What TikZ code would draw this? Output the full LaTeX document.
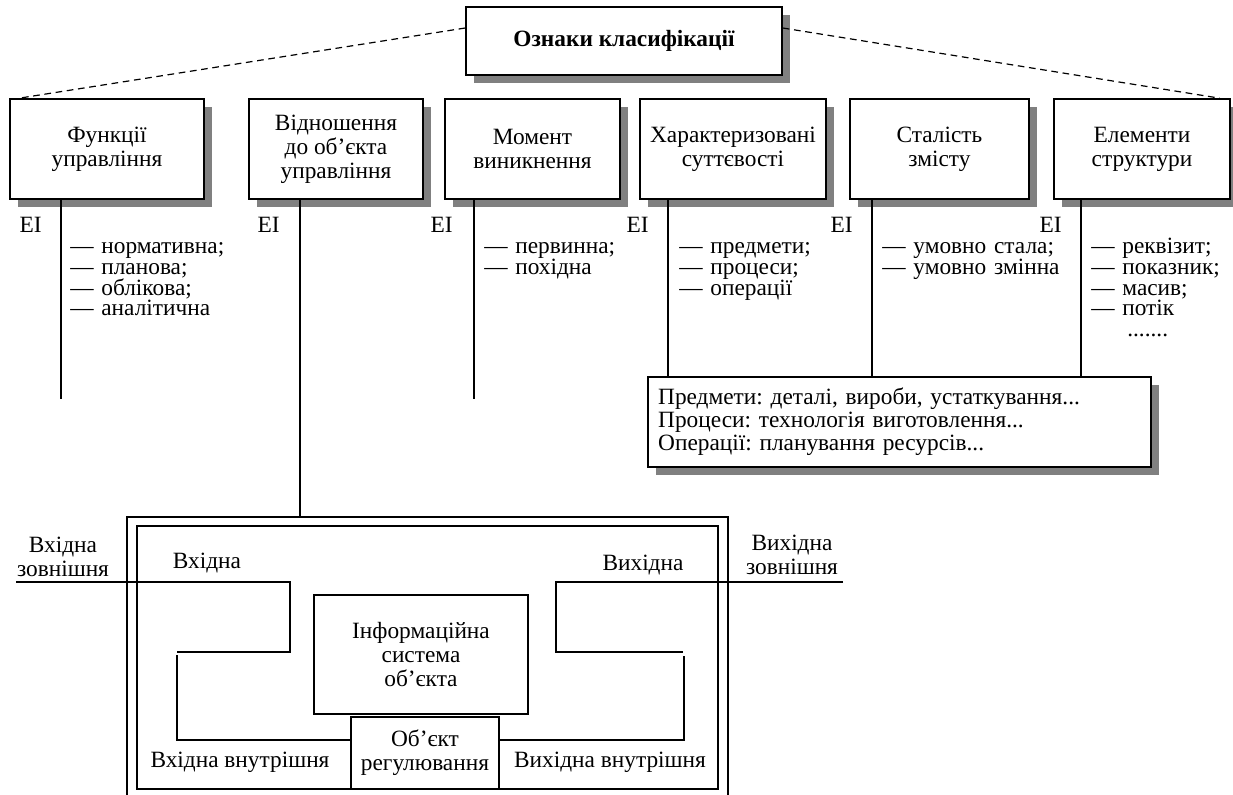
\documentclass[tikz,border=0pt]{standalone}
\usepackage{fontspec}
\setmainfont{Liberation Serif}
\usetikzlibrary{shadows}
\newcommand\listfont{\fontsize{17.5}{15.5}\selectfont\lineskiplimit=-20pt\relax}

\begin{document}
\begin{tikzpicture}[x=0.75pt,y=-0.75pt,
		font=\fontsize{17.5}{18}\selectfont\frenchspacing,
		box/.style={draw,line width=1.2pt,fill=white,align=center,minimum height=75pt,
			drop shadow={shadow xshift=6pt,shadow yshift=-6pt,fill=gray,opacity=1}},
		plain/.style={draw,line width=0.9pt,fill=white,align=center},
		list/.style={anchor=base west,inner sep=0pt,align=left,text width=150pt,font=\listfont},
		ei/.style={anchor=base east,inner sep=0pt},
		lbl/.style={align=center,inner sep=0pt},
		link/.style={line width=1.2pt},
		wire/.style={line width=0.9pt},
		dashlink/.style={line width=0.9pt,dash pattern=on 5pt off 3.5pt}]
		\useasboundingbox (0,0) rectangle (1233,795);
		% header and the six signs
		\node[box,minimum width=237pt,minimum height=51pt,font=\fontsize{17.5}{18}\selectfont\bfseries] (top) at (624,41) {Ознаки класифікації};
		\node[box,minimum width=145.5pt] (fun) at (107,149) {Функції\\управління};
		\node[box,minimum width=130.5pt] (vid) at (336,149) {Відношення\\до об’єкта\\управління};
		\node[box,minimum width=131.25pt] (mom) at (532.5,149) {Момент\\виникнення};
		\node[box,minimum width=139.5pt] (xar) at (733,149) {Характеризовані\\суттєвості};
		\node[box,minimum width=134.25pt] (sta) at (939.5,149) {Сталість\\змісту};
		\node[box,minimum width=132pt] (ele) at (1142,149) {Елементи\\структури};
		\draw[dashlink]([yshift=9.75pt]top.west)--([xshift=7.5pt]fun.north west);
		\draw[dashlink]([yshift=9.75pt]top.east)--([xshift=-8.25pt]ele.north east);
		% note box
		\node[box,minimum width=377.25pt,minimum height=67.5pt,text width=362pt,align=left,
			font=\fontsize{17.5}{17.25}\selectfont\frenchspacing] (note) at (899.5,422)
			{Предмети: деталі, вироби, устаткування...\\Процеси: технологія виготовлення...\\Операції: планування ресурсів...};
		% stems
		\coordinate (fx) at (61,399);
		\coordinate (vx) at (300,517);
		\coordinate (mx) at (474,399);
		\coordinate (xx) at (668,377);
		\coordinate (sx) at (872,377);
		\coordinate (ex) at (1081,377);
		\draw[link](fun.south -| fx)--(fx);
		\draw[link](vid.south -| vx)--(vx);
		\draw[link](mom.south -| mx)--(mx);
		\draw[link](xar.south -| xx)--(note.north -| xx);
		\draw[link](sta.south -| sx)--(note.north -| sx);
		\draw[link](ele.south -| ex)--(note.north -| ex);
		% EI marks
		\node[ei] (ei1) at (42,233) {EI};
		\node[ei] (ei2) at (280,233) {EI};
		\node[ei] (ei3) at (453,233) {EI};
		\node[ei] (ei4) at (649,233) {EI};
		\node[ei] (ei5) at (853,233) {EI};
		\node[ei] (ei6) at (1062,233) {EI};
		% lists
		\node[list] (funl) at (70,254) {— нормативна;\\— планова;\\— облікова;\\— аналітична};
		\node[list] (moml) at (484,254) {— первинна;\\— похідна};
		\node[list] (xarl) at (679,254) {— предмети;\\— процеси;\\— операції};
		\node[list] (stal) at (882,254) {— умовно стала;\\— умовно змінна};
		\node[list] (elel) at (1091,254) {— реквізит;\\— показник;\\— масив;\\— потік\\\hspace*{27pt}.......};
		% object frame
		\draw[link](127,795)--(127,517)--(728,517)--(728,795);
		\draw[wire](137,526) rectangle (718,789);
		\node[plain,minimum width=160.5pt,minimum height=89.25pt] (info) at (421,654.5) {Інформаційна\\система\\об’єкта};
		\node[plain,minimum width=111pt,minimum height=54pt] (obj) at (425,753) {Об’єкт\\регулювання};
		\node[lbl] (inext) at (63,557) {Вхідна\\зовнішня};
		\node[lbl] (outext) at (792,555) {Вихідна\\зовнішня};
		\node[lbl] (inlbl) at (207,563) {Вхідна};
		\node[lbl] (outlbl) at (643,565) {Вихідна};
		\node[lbl] (inint) at (240,762) {Вхідна внутрішня};
		\node[lbl] (outint) at (610,762) {Вихідна внутрішня};
		% flows
		\coordinate (inA) at (16,582);
		\coordinate (inB) at (290,652);
		\coordinate (inC) at (177,652);
		\coordinate (inD) at (177,655);
		\coordinate (inE) at (177,740);
		\coordinate (outA) at (843,582);
		\coordinate (outB) at (556,652);
		\coordinate (outC) at (683,652);
		\coordinate (outD) at (684,656);
		\coordinate (outE) at (684,740);
		\draw[wire](inA)-|(inB)--(inC);
		\draw[wire](inD)--(inE)--(obj.west |- inE);
		\draw[wire](outA)-|(outB)--(outC);
		\draw[wire](outD)--(outE)--(obj.east |- outE);
	\end{tikzpicture}
\end{document}
